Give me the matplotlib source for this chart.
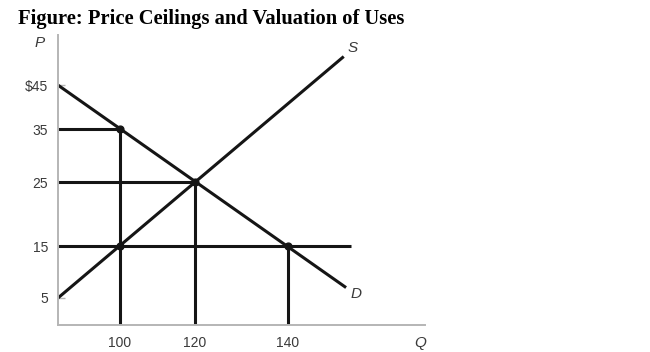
import numpy as np
import matplotlib
matplotlib.use("Agg")
import matplotlib.pyplot as plt

# values
q_ticks = [100, 120, 140]
p_ticks = [5, 15, 25, 35, 45]
p_tick_labels = ["5", "15", "25", "35", "$45"]

supply_q = [80, 152]
supply_p = [5, 51.5]
demand_q = [80, 152.5]
demand_p = [45, 7]

# reference lines: price level, quantity where it stops
ceiling_p = [35, 25, 15]
ceiling_q_end = [100, 120, 153.5]
drop_q = [100, 120, 140]
drop_p = [35, 25, 15]
dots_q = [100, 120, 100, 140]
dots_p = [35, 25, 15, 15]

# the diagram is not drawn to scale, so use a piecewise scale
q_knots = [60, 80, 100, 120, 140, 200]
q_drawn = [-62, 0, 62, 137, 230, 509]
p_knots = [-5, 5, 15, 25, 35, 45, 65]
p_drawn = [-25, 27, 79, 143, 196, 240, 328]


def fwd(knots, drawn):
    return lambda v: np.interp(v, knots, drawn)


def inv(knots, drawn):
    return lambda v: np.interp(v, drawn, knots)


fig = plt.figure(figsize=(6.5, 3.52), dpi=100)
ax = fig.add_axes([0.0892, 0.0767, 0.654 - 0.0892, 0.9006 - 0.0767])
ax.set_xscale("function", functions=(fwd(q_knots, q_drawn), inv(q_knots, q_drawn)))
ax.set_yscale("function", functions=(fwd(p_knots, p_drawn), inv(p_knots, p_drawn)))
ax.set_xlim(80, 169.5)
ax.set_ylim(-0.2, 56.4)

ink = "#151515"
lw = 2.2
ax.plot(supply_q, supply_p, color=ink, lw=lw, solid_capstyle="butt")
ax.plot(demand_q, demand_p, color=ink, lw=lw, solid_capstyle="butt")
for p, qe in zip(ceiling_p, ceiling_q_end):
    ax.plot([80, qe], [p, p], color=ink, lw=lw, solid_capstyle="butt")
for q, p in zip(drop_q, drop_p):
    ax.plot([q, q], [-0.2, p], color=ink, lw=lw, solid_capstyle="butt")
ax.scatter(dots_q, dots_p, s=24, color=ink, zorder=5)

for side in ["top", "right"]:
    ax.spines[side].set_visible(False)
for side in ["left", "bottom"]:
    ax.spines[side].set_color("#b5b5b5")
    ax.spines[side].set_linewidth(1.4)

ax.set_xticks(q_ticks)
ax.set_xticklabels([str(q) for q in q_ticks])
ax.set_yticks(p_ticks)
ax.set_yticklabels(p_tick_labels)
ax.xaxis.set_minor_locator(plt.NullLocator())
ax.yaxis.set_minor_locator(plt.NullLocator())
ax.tick_params(direction="in", length=5, width=1.0, color="#b5b5b5",
               labelsize=10, labelcolor="#3a3a3a")
ax.tick_params(axis="y", pad=7)
ax.tick_params(axis="x", pad=8)
for t in ax.get_xticklabels() + ax.get_yticklabels():
    t.set_fontfamily("Liberation Sans")

lab = dict(fontfamily="Liberation Sans", fontstyle="italic", color="#3a3a3a", fontsize=11)
fig.text(40 / 650, 1 - 43 / 352, "P", ha="center", va="center", **lab)
fig.text(420 / 650, 1 - 343 / 352, "Q", ha="center", va="center", **lab)
fig.text(353 / 650, 1 - 48 / 352, "S", ha="center", va="center", **lab)
fig.text(356 / 650, 1 - 294 / 352, "D", ha="center", va="center", **lab)

fig.text(18 / 650, 1 - 19 / 352, "Figure: Price Ceilings and Valuation of Uses",
         fontfamily="Liberation Serif", fontweight="bold", fontsize=14.8,
         ha="left", va="center", color="black")

fig.savefig("out.png", dpi=100)
